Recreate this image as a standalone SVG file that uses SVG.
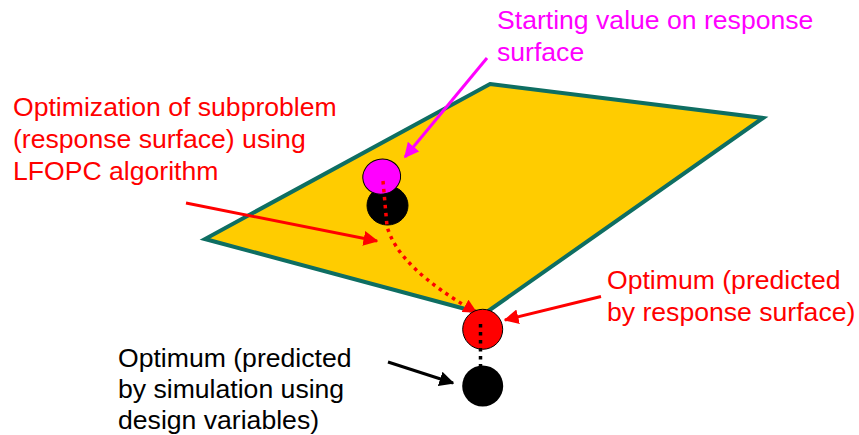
<svg xmlns="http://www.w3.org/2000/svg" width="859" height="435" viewBox="0 0 859 435">
<defs>
<style>
text{font-family:"Liberation Sans",Arial,sans-serif;font-size:26.6px}
.red{fill:#FF0000}
.mag{fill:#FF00FF}
.blk{fill:#000000}
.ln{fill:none;stroke-width:3}
</style>
<marker id="ar" viewBox="0 0 10 10" refX="9" refY="5" markerWidth="5" markerHeight="5" orient="auto" markerUnits="strokeWidth"><path d="M0,0 L10,5 L0,10 Z" fill="#FF0000"/></marker>
<marker id="am" viewBox="0 0 10 10" refX="9" refY="5" markerWidth="5" markerHeight="5" orient="auto" markerUnits="strokeWidth"><path d="M0,0 L10,5 L0,10 Z" fill="#FF00FF"/></marker>
<marker id="ab" viewBox="0 0 10 10" refX="9" refY="5" markerWidth="5" markerHeight="5" orient="auto" markerUnits="strokeWidth"><path d="M0,0 L10,5 L0,10 Z" fill="#000000"/></marker>
<marker id="ad" viewBox="0 0 10 10" refX="9" refY="5" markerWidth="4" markerHeight="4" orient="auto" markerUnits="strokeWidth"><path d="M0,0 L10,5 L0,10 Z" fill="#FF0000"/></marker>
</defs>
<g id="surface">
<polygon points="490,84 763,118 484,314 205,239" fill="#FFCC00" stroke="#0E6E62" stroke-width="4" stroke-linejoin="miter"/>
</g>
<g id="start-sim">
<ellipse cx="387.5" cy="205.5" rx="20.5" ry="19.5" fill="#000000" stroke="#000000" stroke-width="1"/>
</g>
<g id="start-rs">
<ellipse cx="381.7" cy="176.7" rx="19" ry="17.5" transform="rotate(-15 381.7 176.7)" fill="#FF00FF" stroke="#000000" stroke-width="1"/>
</g>
<g id="connectors">
<path d="M383,181 L387,226 Q398,268 476,312" fill="none" stroke="#FF0000" stroke-width="3.5" stroke-dasharray="3.5 4.5" marker-end="url(#ad)"/>
<line x1="480.5" y1="324" x2="480.5" y2="368" stroke="#000000" stroke-width="3.5" stroke-dasharray="3.5 4.5"/>
<line class="ln" x1="487" y1="58" x2="405" y2="157" stroke="#FF00FF" marker-end="url(#am)"/>
<line class="ln" x1="186" y1="203" x2="377" y2="241" stroke="#FF0000" marker-end="url(#ar)"/>
<line class="ln" x1="601" y1="296.5" x2="505" y2="320" stroke="#FF0000" marker-end="url(#ar)"/>
<line class="ln" x1="388" y1="362" x2="453" y2="383" stroke="#000000" marker-end="url(#ab)"/>
</g>
<g id="opt-rs">
<circle cx="482.7" cy="329.3" r="20" fill="#FF0000" stroke="#000000" stroke-width="1"/>
<line x1="480.5" y1="324" x2="480.5" y2="349" stroke="#000000" stroke-width="3.5" stroke-dasharray="3.5 4.5"/>
</g>
<g id="opt-sim">
<circle cx="482.7" cy="386" r="20.5" fill="#000000"/>
</g>
<g id="label-start">
<text class="mag" x="497" y="29">Starting value on response</text>
<text class="mag" x="497" y="61">surface</text>
</g>
<g id="label-optim">
<text class="red" x="13" y="116">Optimization of subproblem</text>
<text class="red" x="13" y="148">(response surface) using</text>
<text class="red" x="13" y="180">LFOPC algorithm</text>
</g>
<g id="label-opt-rs">
<text class="red" x="607" y="288.5">Optimum (predicted</text>
<text class="red" x="607" y="320.5">by response surface)</text>
</g>
<g id="label-opt-sim">
<text class="blk" x="118" y="366.5">Optimum (predicted</text>
<text class="blk" x="118" y="397.5">by simulation using</text>
<text class="blk" x="118" y="428.5">design variables)</text>
</g>
</svg>
